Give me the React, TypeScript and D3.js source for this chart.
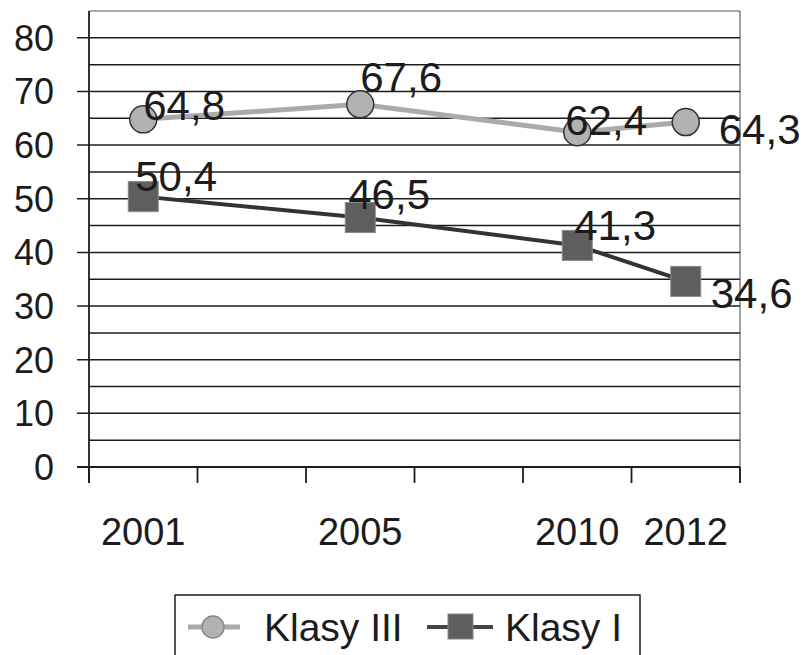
import React from 'react';
import * as d3 from 'd3';

// kategorie osi X (puste sloty tak jak w oryginalnym wykresie)
const categories = ['2001', '', '2005', '', '2010', '2012'];
const klasyIII = [64.8, null, 67.6, null, 62.4, 64.3];
const klasyI = [50.4, null, 46.5, null, 41.3, 34.6];
const yTicks = [0, 10, 20, 30, 40, 50, 60, 70, 80];
const seriesNames = ['Klasy III', 'Klasy I'];

// ręczne przesunięcia etykiet danych (dx, dy od punktu)
const offIII = [[0, 1], null, [0, -12], null, [-12, 3], [33, 22]];
const offI = [[-8, -6], null, [-12, -9], null, [-3, -5], [25, 27]];

const W = 806;
const H = 655;
const left = 89, right = 740, top = 11, bottom = 467;
const font = '"Liberation Sans", Arial, Helvetica, sans-serif';
const ink = '#1c1c1c';

const fmt = (v: number) => v.toFixed(1).replace('.', ',');

export default function App() {
  const x = d3.scaleBand<number>().domain(d3.range(categories.length)).range([left, right]).padding(0);
  const y = d3.scaleLinear().domain([0, 85]).range([bottom, top]);
  const cx = (i: number) => (x(i) as number) + x.bandwidth() / 2;

  const pts = (vals: (number | null)[]) =>
    vals.map((v, i) => ({ v, i })).filter((d) => d.v !== null) as { v: number; i: number }[];

  const line = d3.line<{ v: number; i: number }>().x((d) => cx(d.i)).y((d) => y(d.v));

  const p3 = pts(klasyIII);
  const p1 = pts(klasyI);
  const grid = d3.range(5, 85, 5);
  const edges = d3.range(categories.length + 1).map((i) => left + i * x.bandwidth());

  return (
    <svg width={W} height={H} style={{ position: 'absolute', left: 0, top: 0, background: '#fff' }} fontFamily={font}>
      {/* ramka obszaru wykresu */}
      <line x1={left} x2={right} y1={top} y2={top} stroke="#555" strokeWidth={1} />
      <line x1={right} x2={right} y1={top} y2={bottom + 16} stroke="#444" strokeWidth={1} />

      {/* linie siatki co 5 */}
      {grid.map((g) => (
        <line key={g} x1={g % 10 === 0 ? left - 12 : left} x2={right} y1={y(g)} y2={y(g)} stroke={ink} strokeWidth={1.5} />
      ))}
      {/* os X */}
      <line x1={left - 12} x2={right} y1={y(0)} y2={y(0)} stroke={ink} strokeWidth={1.8} />
      <line x1={left} x2={left} y1={top} y2={bottom + 16} stroke={ink} strokeWidth={1.8} />
      {edges.map((e, i) => (
        <line key={i} x1={e} x2={e} y1={bottom} y2={bottom + 16} stroke={ink} strokeWidth={1.8} />
      ))}

      {/* etykiety osi Y */}
      {yTicks.map((t) => (
        <text key={t} x={54} y={y(t)} dy="0.36em" textAnchor="end" fontSize={36} fill={ink}>
          {t}
        </text>
      ))}
      {/* etykiety osi X */}
      {categories.map((c, i) =>
        c ? (
          <text key={i} x={cx(i)} y={545} textAnchor="middle" fontSize={38} fill={ink}>
            {c}
          </text>
        ) : null
      )}

      {/* serie */}
      <path d={line(p3) as string} fill="none" stroke="#aaa" strokeWidth={5} />
      <path d={line(p1) as string} fill="none" stroke="#333" strokeWidth={4} />
      {p3.map((d) => (
        <circle key={d.i} cx={cx(d.i)} cy={y(d.v)} r={13.5} fill="#b2b2b2" stroke="#333" strokeWidth={1.5} />
      ))}
      {p1.map((d) => (
        <rect key={d.i} x={cx(d.i) - 15} y={y(d.v) - 15} width={30} height={30} fill="#5e5e5e" stroke="#888" strokeWidth={1} />
      ))}

      {/* etykiety danych */}
      {p3.map((d) => {
        const o = offIII[d.i] as number[];
        return (
          <text key={d.i} x={cx(d.i) + o[0]} y={y(d.v) + o[1]} fontSize={42} fill={ink}>
            {fmt(d.v)}
          </text>
        );
      })}
      {p1.map((d) => {
        const o = offI[d.i] as number[];
        return (
          <text key={d.i} x={cx(d.i) + o[0]} y={y(d.v) + o[1]} fontSize={42} fill={ink}>
            {fmt(d.v)}
          </text>
        );
      })}

      {/* legenda */}
      <rect x={175} y={595} width={465} height={80} fill="none" stroke={ink} strokeWidth={1.5} />
      <line x1={188} x2={240} y1={627} y2={627} stroke="#aaa" strokeWidth={5} />
      <circle cx={213} cy={627} r={11} fill="#b2b2b2" stroke="#888" strokeWidth={1.5} />
      <text x={264} y={641} fontSize={39} fill={ink}>{seriesNames[0]}</text>
      <line x1={427} x2={493} y1={627} y2={627} stroke="#444" strokeWidth={4} />
      <rect x={448} y={614} width={25} height={25} fill="#5e5e5e" stroke="#888" strokeWidth={1} />
      <text x={505} y={641} fontSize={39} fill={ink}>{seriesNames[1]}</text>
    </svg>
  );
}
